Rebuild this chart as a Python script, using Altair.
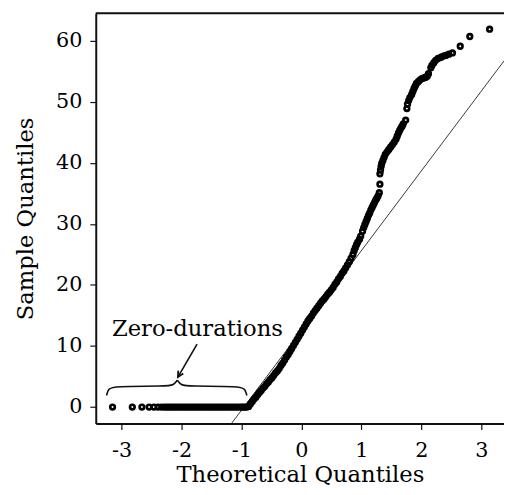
import altair as alt
import pandas as pd

# ---- data ----
zero_x = [-3.15, -2.82, -2.66, -2.54, -2.46, -2.39, -2.33, -2.28, -2.24, -2.20,
          -2.16, -2.12, -2.08, -2.04, -2.00, -1.96, -1.92, -1.88, -1.84, -1.80,
          -1.76, -1.72, -1.68, -1.64, -1.60, -1.56, -1.52, -1.48, -1.44, -1.40,
          -1.36, -1.32, -1.28, -1.24, -1.20, -1.16, -1.12, -1.08, -1.04, -1.00,
          -0.97, -0.94, -0.91]
zero_y = [0.0] * len(zero_x)

rise_x = [-0.88, -0.85, -0.82, -0.79, -0.76, -0.73, -0.70, -0.67, -0.64, -0.61,
          -0.58, -0.55, -0.52, -0.49, -0.46, -0.43, -0.40, -0.37, -0.34, -0.31,
          -0.28, -0.25, -0.22, -0.19, -0.16, -0.13, -0.10, -0.07, -0.04, -0.01,
          0.02, 0.05, 0.08, 0.11, 0.14, 0.17, 0.20, 0.23, 0.26, 0.29,
          0.32, 0.35, 0.38, 0.41, 0.44, 0.47, 0.50, 0.53, 0.56, 0.59,
          0.62, 0.65, 0.68, 0.71, 0.74, 0.77, 0.80, 0.83, 0.86, 0.88,
          0.90, 0.92, 0.94, 0.97,
          0.99, 1.02, 1.04, 1.06, 1.08, 1.10, 1.12, 1.14, 1.16, 1.18,
          1.20, 1.22, 1.24, 1.26, 1.28, 1.30, 1.31,
          1.31, 1.32, 1.33, 1.34, 1.36, 1.38, 1.40, 1.43, 1.46, 1.49,
          1.52, 1.55, 1.58, 1.60, 1.62, 1.64, 1.66, 1.68, 1.70, 1.74,
          1.76, 1.77, 1.79, 1.81, 1.84, 1.86, 1.88, 1.90, 1.92, 1.95,
          1.98, 2.01, 2.04, 2.07, 2.10, 2.12,
          2.16, 2.18, 2.21, 2.24, 2.28, 2.33, 2.37, 2.41, 2.46, 2.52,
          2.65, 2.81, 3.14]
rise_y = [0.1, 0.5, 0.9, 1.3, 1.6, 2.0, 2.4, 2.7, 3.1, 3.4,
          3.8, 4.1, 4.5, 4.8, 5.2, 5.6, 5.9, 6.3, 6.8, 7.2,
          7.7, 8.2, 8.6, 9.1, 9.6, 10.1, 10.6, 11.1, 11.6, 12.1,
          12.6, 13.1, 13.6, 14.1, 14.5, 14.9, 15.4, 15.8, 16.2, 16.6,
          17.0, 17.4, 17.7, 18.1, 18.5, 18.8, 19.2, 19.6, 20.1, 20.5,
          21.0, 21.4, 21.9, 22.3, 22.8, 23.3, 23.8, 24.4, 25.0, 25.6,
          26.1, 26.6, 27.0, 27.5,
          28.0, 28.8, 29.4, 29.9, 30.4, 30.9, 31.4, 31.8, 32.3, 32.7,
          33.1, 33.5, 33.9, 34.2, 34.6, 35.1, 36.5,
          38.2, 38.8, 39.4, 39.9, 40.4, 40.9, 41.4, 41.8, 42.2, 42.6,
          43.0, 43.4, 43.9, 44.4, 44.9, 45.3, 45.7, 46.0, 46.4, 47.0,
          48.9, 49.6, 50.2, 50.7, 51.2, 51.7, 52.2, 52.6, 53.0, 53.3,
          53.6, 53.8, 53.9, 54.0, 54.2, 54.6,
          55.6, 56.0, 56.4, 56.8, 57.1, 57.3, 57.5, 57.6, 57.8, 58.0,
          59.1, 60.7, 61.9]

ref_x = [-1.17, 3.38]
ref_y = [-2.75, 56.7]

brace_x = [-3.25, -3.22, -3.14, -2.25, -2.13, -2.07,
           -2.07, -2.01, -1.89, -1.02, -0.94, -0.91]
brace_y = [1.9, 3.0, 3.4, 3.4, 3.6, 4.4,
           4.4, 3.6, 3.4, 3.4, 3.0, 1.9]
brace_part = ["l"] * 6 + ["r"] * 6

arrow_x = [-1.74, -2.06]
arrow_y = [10.3, 4.9]

x_ticks = [-3, -2, -1, 0, 1, 2, 3]
y_ticks = [0, 10, 20, 30, 40, 50, 60]
x_domain = [-3.43, 3.38]
y_domain = [-2.7, 64.5]

FONT = "DejaVu Serif"

pts = pd.DataFrame({"x": zero_x + rise_x, "y": zero_y + rise_y})
ref = pd.DataFrame({"x": ref_x, "y": ref_y})
brace = pd.DataFrame({"x": brace_x, "y": brace_y, "part": brace_part,
                      "o": list(range(len(brace_x)))})
arrow = pd.DataFrame({"x": arrow_x, "y": arrow_y})
head = pd.DataFrame({"x": [arrow_x[1]], "y": [arrow_y[1]]})
label = pd.DataFrame({"x": [-3.16], "y": [11.6], "t": ["Zero-durations"]})

xs = alt.Scale(domain=x_domain, nice=False, zero=False)
ys = alt.Scale(domain=y_domain, nice=False, zero=False)

common = dict(grid=False, tickSize=6, tickWidth=1.2, domainWidth=2,
              domainColor="#111", tickColor="#111",
              labelFont=FONT, titleFont=FONT, labelFontSize=21, titleFontSize=23,
              labelColor="black", titleColor="black", titleFontWeight="normal")
xaxis = alt.Axis(values=x_ticks, title="Theoretical Quantiles",
                 labelExpr="toString(datum.value)", labelPadding=10, titlePadding=4,
                 **common)
yaxis = alt.Axis(values=y_ticks, title="Sample Quantiles",
                 labelPadding=8, titlePadding=18, **common)

points = alt.Chart(pts).mark_point(
    shape="circle", filled=False, stroke="black", strokeWidth=2.7, size=22, opacity=1
).encode(x=alt.X("x:Q", scale=xs, axis=xaxis), y=alt.Y("y:Q", scale=ys, axis=yaxis))

refline = alt.Chart(ref).mark_line(color="#222", strokeWidth=0.9, clip=True).encode(
    x=alt.X("x:Q", scale=xs), y=alt.Y("y:Q", scale=ys))

brace_l = alt.Chart(brace).mark_line(color="#111", strokeWidth=1.6, interpolate="basis").encode(
    x=alt.X("x:Q", scale=xs), y=alt.Y("y:Q", scale=ys), detail="part:N", order="o:Q")

arrow_l = alt.Chart(arrow).mark_line(color="#111", strokeWidth=1.6).encode(
    x=alt.X("x:Q", scale=xs), y=alt.Y("y:Q", scale=ys))

arrow_h = alt.Chart(head).mark_point(
    shape="M -0.7 -1.4 L 0 0 L 0.7 -1.4", filled=False, stroke="#111",
    strokeWidth=1.8, size=70, angle=30, opacity=1
).encode(x=alt.X("x:Q", scale=xs), y=alt.Y("y:Q", scale=ys))

text = alt.Chart(label).mark_text(
    align="left", baseline="alphabetic", font=FONT, fontSize=23, color="black"
).encode(x=alt.X("x:Q", scale=xs), y=alt.Y("y:Q", scale=ys), text="t:N")

top_border = alt.Chart(pd.DataFrame({"a": [0]})).mark_rule(color="#111", strokeWidth=2).encode(
    x=alt.value(0), x2=alt.value(420), y=alt.value(0))

chart = alt.layer(refline, brace_l, arrow_l, arrow_h, text, points, top_border).properties(
    width=414, height=416,
    padding={"left": 89, "top": 2, "right": 0, "bottom": 60},
    autosize=alt.AutoSizeParams(type="none"),
    background="white",
).configure_view(stroke=None)

chart.save("out.html", embed_options={"renderer": "svg", "actions": False})
